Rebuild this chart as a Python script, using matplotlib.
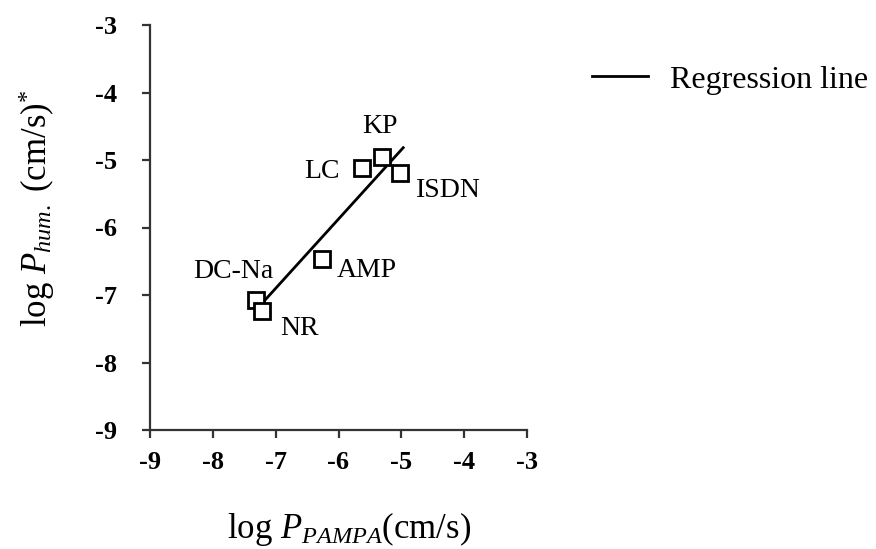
import matplotlib
matplotlib.use("Agg")
import matplotlib.pyplot as plt
import numpy as np

plt.rcParams['font.family'] = ['Liberation Serif', 'DejaVu Serif']
plt.rcParams['mathtext.fontset'] = 'custom'
plt.rcParams['mathtext.rm'] = 'Liberation Serif'
plt.rcParams['mathtext.it'] = 'Liberation Serif:italic'

# compounds, log P_PAMPA and log P_hum
drugs = ['KP', 'LC', 'ISDN', 'AMP', 'DC-Na', 'NR']
log_pampa = [-5.31, -5.63, -5.02, -6.27, -7.31, -7.22]
log_hum = [-4.95, -5.12, -5.19, -6.46, -7.08, -7.23]
line_x = [-7.22, -4.97]
ticks = list(range(-9, -2))

# where each label sits relative to its marker (pixels) and alignment
label_pos = {
    'KP': ((-2, 30), 'center'),
    'LC': ((-22, -3), 'right'),
    'ISDN': ((16, -18), 'left'),
    'AMP': ((15, -12), 'left'),
    'DC-Na': ((17, 29), 'right'),
    'NR': ((18, -18), 'left'),
}

fig = plt.figure(figsize=(8.76, 5.49), dpi=100)
ax = fig.add_axes([150/876, 1-430/549, 377/876, 405/549])

slope, icpt = np.polyfit(log_pampa, log_hum, 1)
lx = np.array(line_x)
ax.plot(lx, slope*lx + icpt, color='black', lw=2, label='Regression line')
ax.plot(log_pampa, log_hum, 's', ms=12, mfc='white', mec='black', mew=2, zorder=3)

for name, x, y in zip(drugs, log_pampa, log_hum):
    off, ha = label_pos[name]
    ax.annotate(name, (x, y), xytext=off, textcoords='offset pixels',
                ha=ha, va='center', fontsize=20)

ax.set_xlim(-9, -3)
ax.set_ylim(-9, -3)
ax.set_xticks(ticks)
ax.set_yticks(ticks)
ax.set_xticklabels([str(v) for v in ticks], fontweight='bold', fontsize=19)
ax.set_yticklabels([str(v) for v in ticks], fontweight='bold', fontsize=19)
for s in ['top', 'right']:
    ax.spines[s].set_visible(False)
for s in ['left', 'bottom']:
    ax.spines[s].set_linewidth(1.6)
    ax.spines[s].set_color('#333333')
ax.tick_params(direction='out', length=6, width=1.6, color='#333333')
ax.tick_params(axis='x', pad=9)
ax.tick_params(axis='y', pad=18)

ax.set_xlabel(r'log $P_{PAMPA}$(cm/s)', fontsize=25)
ax.set_ylabel(r'log $P_{hum.}$ (cm/s)$^{*}$', fontsize=25)
ax.xaxis.set_label_coords(0.527, -0.197)
ax.yaxis.set_label_coords(-0.247, 0.547)

fig.legend(loc='center left', bbox_to_anchor=(592/876, 1-80/549), frameon=False,
           fontsize=23, handlelength=1.75, handletextpad=0.7, borderpad=0, borderaxespad=0)

fig.savefig('out.png', dpi=100)
